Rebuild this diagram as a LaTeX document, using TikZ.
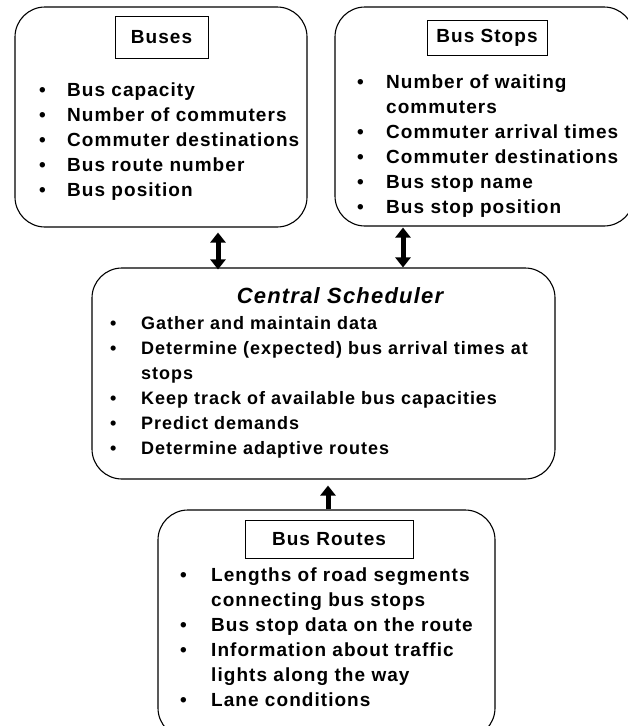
\documentclass[tikz,border=0pt]{standalone}
\usepackage{fontspec}
\setmainfont{Liberation Sans}[LetterSpace=5.5]
\usetikzlibrary{arrows.meta}

\begin{document}
\begin{tikzpicture}[x=1pt,y=-1pt,
  group/.style={draw, line width=1.1pt, rounded corners=30pt, inner sep=0},
  title/.style={draw, line width=0.8pt, inner sep=0, font=\fontsize{19}{22}\selectfont\bfseries},
  items/.style={anchor=base west, inner sep=0, font=\fontsize{19}{25}\selectfont\bfseries},
  link/.style={line width=5pt, -{Triangle[width=15pt,length=10pt]}},
  link2/.style={line width=5pt, {Triangle[width=15pt,length=10pt]}-{Triangle[width=15pt,length=10pt]}}]
\useasboundingbox (0,0) rectangle (628,726);
\clip (0,0) rectangle (628,726);
% the four groups
\node[group, minimum width=292pt, minimum height=220pt] (buses) at (161,117) {};
\node[group, minimum width=299pt, minimum height=219pt] (stops) at (484.5,116.5) {};
\node[group, minimum width=463pt, minimum height=211pt] (sched) at (323.5,373.5) {};
\node[group, minimum width=337pt, minimum height=228pt] (routes) at (326.5,624) {};
% titles
\node[title, minimum width=93pt, minimum height=42pt] (busesT) at (161.5,37) {Buses};
\node[title, minimum width=120pt, minimum height=35pt] (stopsT) at (487,37.5) {Bus Stops};
\node[anchor=base, inner sep=0, font=\fontsize{22}{26}\selectfont\bfseries\itshape] (schedT) at (340,303) {Central Scheduler};
\node[title, minimum width=168pt, minimum height=38pt] (routesT) at (329,539) {Bus Routes};
% lists
\node[items] (busesL) at (39,96.5) {\begin{tabular}[t]{@{}p{28pt}@{}l@{}}
\textbullet & Bus capacity\\
\textbullet & Number of commuters\\
\textbullet & Commuter destinations\\
\textbullet & Bus route number\\
\textbullet & Bus position
\end{tabular}};
\node[items] (stopsL) at (357,88) {\begin{tabular}[t]{@{}p{29pt}@{}l@{}}
\textbullet & Number of waiting\\
 & commuters\\
\textbullet & Commuter arrival times\\
\textbullet & Commuter destinations\\
\textbullet & Bus stop name\\
\textbullet & Bus stop position
\end{tabular}};
\node[items, font=\fontsize{18}{25}\selectfont\bfseries] (schedL) at (110,329.5) {\begin{tabular}[t]{@{}p{31pt}@{}l@{}}
\textbullet & Gather and maintain data\\
\textbullet & Determine (expected) bus arrival times at\\
 & stops\\
\textbullet & Keep track of available bus capacities\\
\textbullet & Predict demands\\
\textbullet & Determine adaptive routes
\end{tabular}};
\node[items] (routesL) at (180,581.5) {\begin{tabular}[t]{@{}p{31pt}@{}l@{}}
\textbullet & Lengths of road segments\\
 & connecting bus stops\\
\textbullet & Bus stop data on the route\\
\textbullet & Information about traffic\\
 & lights along the way\\
\textbullet & Lane conditions
\end{tabular}};
% arrows
\coordinate (a1) at ([xshift=57pt,yshift=-5pt]buses.south);
\coordinate (a2) at (a1 |- sched.north);
\coordinate (b1) at ([xshift=-81.5pt,yshift=-1pt]stops.south);
\coordinate (b2) at (b1 |- sched.north);
\coordinate (c1) at ([xshift=1.5pt]routes.north);
\coordinate (c2) at (c1 |- sched.south);
\draw[link2] (a1) -- ([yshift=-2pt]a2);
\draw[link2] (b1) -- (b2);
\draw[link] (c1) -- ([yshift=-6pt]c2);
\end{tikzpicture}
\end{document}
